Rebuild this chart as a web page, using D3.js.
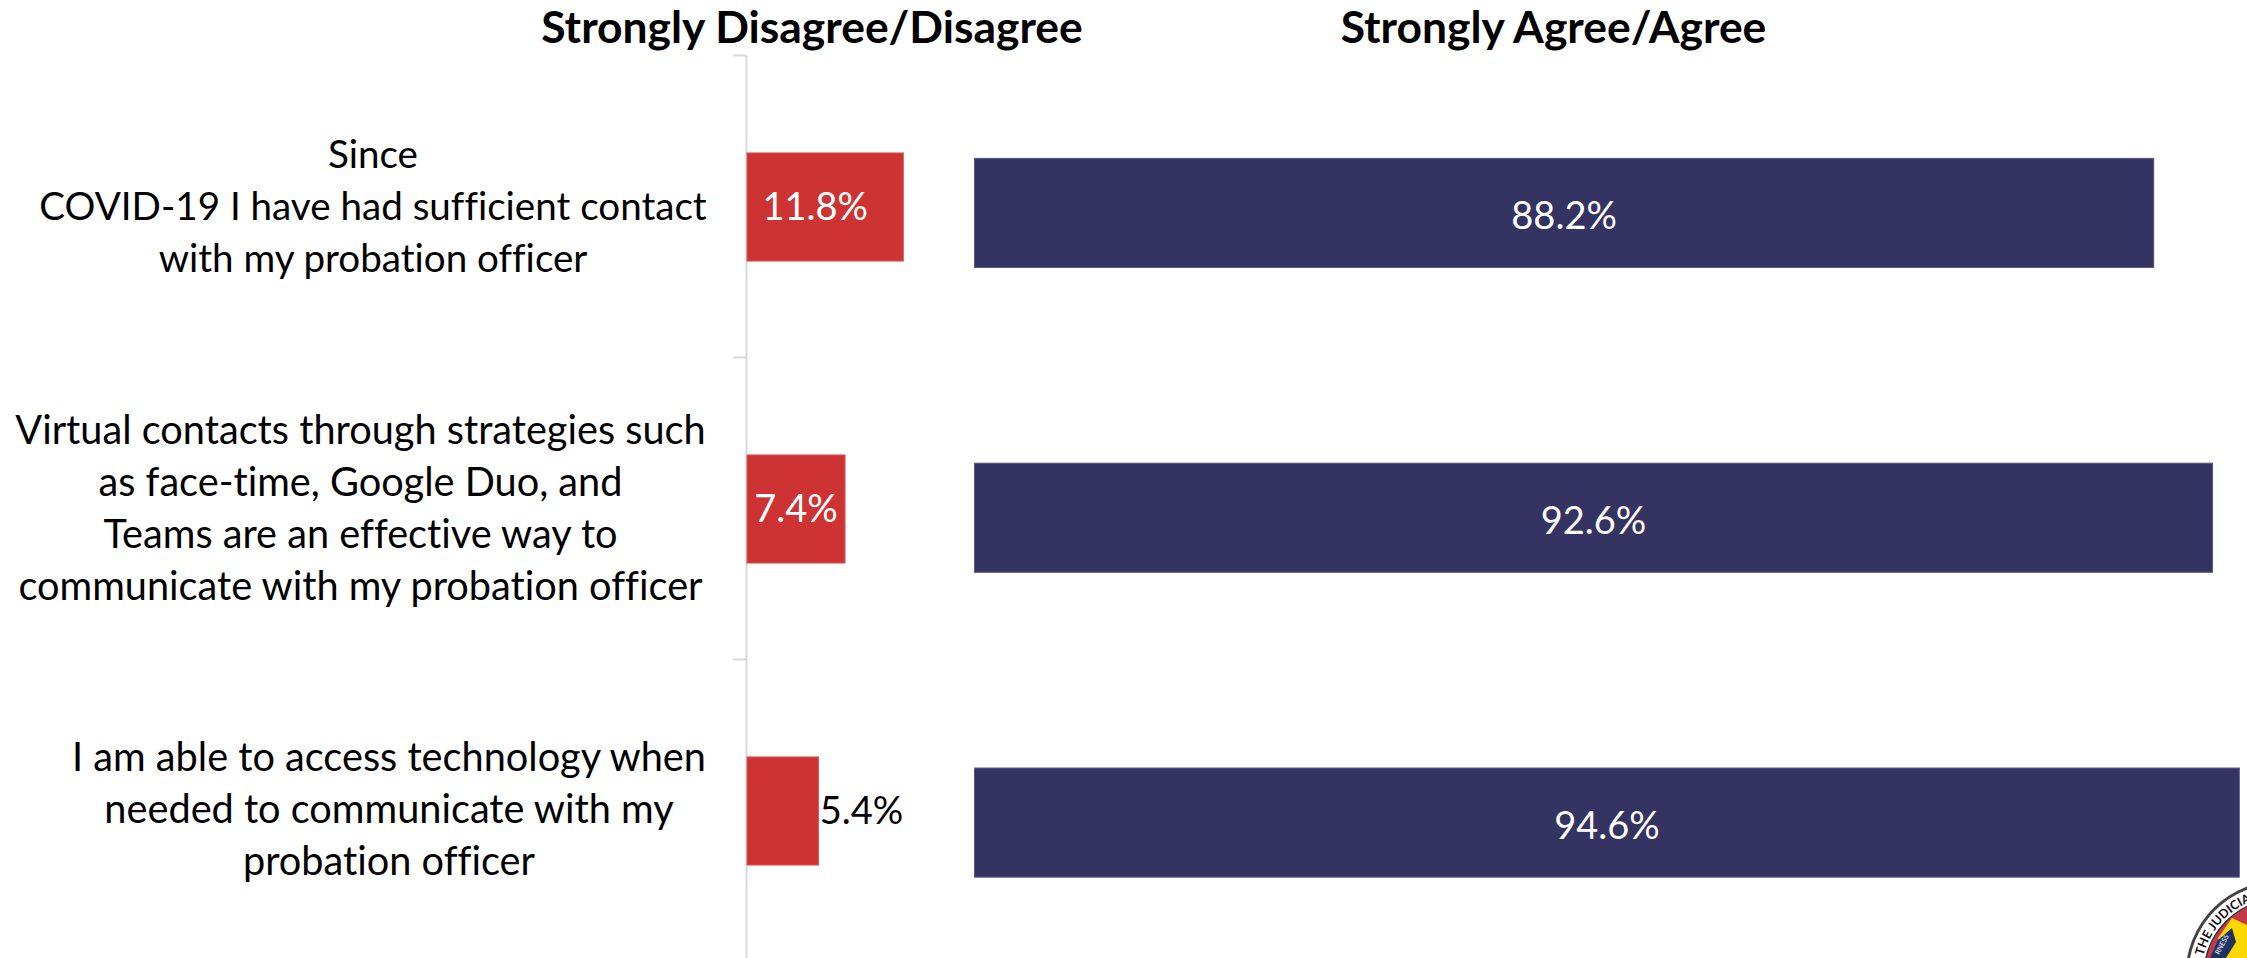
<!DOCTYPE html>
<html><head><meta charset="utf-8">
<script src="https://cdn.jsdelivr.net/npm/d3@7"></script>
<style>html,body{margin:0;padding:0;background:#fff;overflow:hidden}svg{display:block}text{font-family:Lato,"Open Sans",sans-serif;font-variant-ligatures:none}</style>
</head><body><svg id="c" width="2247" height="958"></svg>
<script>
const categoryLines = [
  ["Since","COVID-19 I have had sufficient contact","with my probation officer"],
  ["Virtual contacts through strategies such","as face-time, Google Duo, and","Teams are an effective way to","communicate with my probation officer"],
  ["I am able to access technology when","needed to communicate with my","probation officer"]];
const disagree = [11.8, 7.4, 5.4];
const agree = [88.2, 92.6, 94.6];
const headings = ["Strongly Disagree/Disagree","Strongly Agree/Agree"];

const svg = d3.select("#c");
const FS = 38, LFS = [38.6,39.7,39.7];
const xL = d3.scaleLinear().domain([0,100]).range([747,747+1325]);
const xR = d3.scaleLinear().domain([0,100]).range([974.5,974.5+1337]);
const yL = d3.scaleBand().domain(d3.range(3)).range([56,962]).paddingInner(0.642).paddingOuter(0.321);
const yR = d3.scaleBand().domain(d3.range(3)).range([60.5,975]).paddingInner(0.642).paddingOuter(0.321);
const yTick = d3.scaleLinear().domain([0,3]).range([55,961]);

// axis
const ax = svg.append("g").attr("transform","translate(746,0)")
  .call(d3.axisLeft(yTick).tickValues([0,1,2]).tickFormat("").tickSize(13).tickSizeOuter(0));
ax.selectAll("line").attr("stroke","#d9d9d9").attr("stroke-width",2);
ax.select(".domain").attr("stroke","#d9d9d9").attr("stroke-width",2);

// bars
const barAttrs = (sel,x,y,fill,edge)=>sel.attr("x",x(0)).attr("y",(d,i)=>y(i))
  .attr("width",d=>x(d)-x(0)).attr("height",y.bandwidth())
  .attr("fill",fill).attr("stroke",edge).attr("stroke-width",1);
svg.append("g").selectAll("rect").data(disagree).join("rect").call(barAttrs,xL,yL,"#cd3333","#d85a5a");
svg.append("g").selectAll("rect").data(agree).join("rect").call(barAttrs,xR,yR,"#343362","#5a5888");

// value labels
const pct = d => d.toFixed(1)+"%";
svg.append("g").selectAll("text").data(disagree).join("text")
  .attr("x",(d,i)=> i<2 ? (xL(0)+xL(d))/2 - (i==0?10:0) : xL(d)+43)
  .attr("y",(d,i)=>yL(i)+yL.bandwidth()/2+13)
  .attr("text-anchor","middle").attr("font-size",FS)
  .attr("fill",(d,i)=>i<2?"#fff":"#000").text(pct);
svg.append("g").selectAll("text").data(agree).join("text")
  .attr("x",d=>(xR(0)+xR(d))/2)
  .attr("y",(d,i)=>yR(i)+yR.bandwidth()/2+16)
  .attr("text-anchor","middle").attr("font-size",FS)
  .attr("fill","#fff").text(pct);

// category labels
const labelCx = [373,360.5,389];
const labelFirst = [167.5,443.5,770.5];
categoryLines.forEach((lines,i)=>{
  svg.append("g").selectAll("text").data(lines).join("text")
    .attr("text-anchor","middle").attr("font-size",LFS[i]).attr("fill","#000")
    .attr("x",labelCx[i]).attr("y",(d,j)=>labelFirst[i]+j*52).text(d=>d);
});

// headings
svg.append("g").selectAll("text").data(headings).join("text")
  .attr("x",(d,i)=>[812,1553.5][i]).attr("y",43)
  .attr("text-anchor","middle").attr("font-size",44.4).attr("font-weight",700).attr("fill","#000").text(d=>d);

// seal in the corner
const sx = 2280, sy = 975;
const seal = svg.append("g");
seal.append("circle").attr("cx",sx).attr("cy",sy).attr("r",93).attr("fill","#fff").attr("stroke","#444").attr("stroke-width",3);
seal.append("circle").attr("cx",sx).attr("cy",sy).attr("r",76).attr("fill","#c4394a").attr("stroke","#333").attr("stroke-width",1.5);
const arcR = 79, a0 = -76*Math.PI/180, a1 = -10*Math.PI/180;
const pt = a => [sx+arcR*Math.sin(a), sy-arcR*Math.cos(a)];
seal.append("path").attr("id","sealArc").attr("fill","none")
  .attr("d",`M${pt(a0)} A${arcR},${arcR} 0 0 1 ${pt(a1)}`);
seal.append("text").attr("font-size",12.5).attr("font-weight",700).attr("fill","#111")
  .append("textPath").attr("href","#sealArc").text("THE JUDICIA");
seal.append("path").attr("d","M2218,938 L2232,918 L2247,925 L2247,958 L2222,958 Z").attr("fill","#fdd800");
seal.append("path").attr("d","M2218,940 L2232,928 L2236,942 L2226,958 L2210,958 Z").attr("fill","#1f3264");
seal.append("text").attr("transform","translate(2219,955) rotate(-62)").attr("font-size",7).attr("fill","#fff").text("RNESS");
</script></body></html>
